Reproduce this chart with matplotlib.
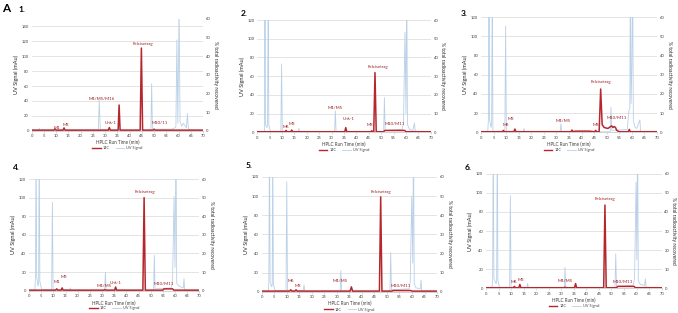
import matplotlib
matplotlib.use("Agg")
import matplotlib.pyplot as plt
from matplotlib.lines import Line2D

plt.rcParams['font.family'] = ['Lato', 'DejaVu Sans']

RED = "#b5272d"
LABEL_RED = "#9e1f24"
BLUE = "#b9d0e8"
GRID = "#d9d9d9"

X_TICKS = list(range(0, 75, 5))
PCT_TICKS = list(range(0, 70, 10))

# ---- panel 1 ----
P1_UV_T = [0, 2.8, 3.1, 3.4, 27.2, 27.6, 28.0, 48.7, 49.0, 49.3, 57.0, 58.0, 58.9,
           59.3, 59.7, 60.2, 60.6, 61.3, 61.9, 63.2, 63.6, 64.0, 65.0, 70]
P1_UV_V = [1, 1, 3, 1, 1, 41, 1, 1, 63, 2, 2, 3, 5, 122, 10, 170, 12, 6, 10, 4, 23, 2, 1, 1]
P1_C14_T = [0, 9.1, 9.5, 9.9, 12.8, 13.2, 13.6, 31.3, 31.7, 32.1, 35.3, 35.7, 36.1,
            44.3, 44.8, 45.3, 49.6, 50.0, 50.4, 70]
P1_C14_V = [0.3, 0.3, 1.0, 0.3, 0.3, 1.5, 0.3, 0.3, 1.7, 0.3, 0.3, 13.8, 0.3,
            0.3, 44.4, 0.3, 0.3, 0.8, 0.3, 0.3]
P1_LABELS = ["M1", "M3", "M4/M5/M16", "Unk-1", "Felcisetrag", "M10/11"]
P1_LABEL_T = [10.5, 13.9, 28.6, 32.4, 45.6, 52.2]
P1_LABEL_Y = [4, 7.6, 43, 11, 117, 10]

# ---- panel 2 ----
P2_UV_T = [0, 2.85, 3.1, 3.35, 3.9, 4.15, 4.4, 4.65, 5.3, 9.5, 9.8, 10.1, 16.5, 16.8, 17.1,
           31.2, 31.5, 31.8, 51.0, 51.3, 51.6, 58.5, 59.0, 59.6, 60.0, 60.3, 60.6,
           61.5, 62.8, 63.4, 63.8, 70]
P2_UV_V = [0.5, 0.5, 170, 8, 5, 8, 170, 8, 1, 1, 73, 1, 1, 4, 0.5, 0.5, 23, 0.5, 0.5,
           37, 2, 3, 10, 107, 20, 170, 8, 3, 2, 10, 0.5, 0.5]
P2_C14_T = [0, 11.2, 11.6, 12.0, 13.5, 13.9, 14.3, 35.3, 35.7, 36.1, 45.8, 46.2, 46.6,
            47.0, 47.5, 48.0, 51.0, 51.5, 59.5, 60.0, 70]
P2_C14_V = [0.3, 0.3, 1.0, 0.3, 0.3, 1.2, 0.3, 0.3, 2.5, 0.3, 0.3, 0.8, 0.3,
            0.3, 31.9, 0.3, 0.3, 1.0, 1.0, 0.3, 0.3]
P2_LABELS = ["M6", "M3", "M4/M5", "Unk-1", "M8", "Felcisetrag", "M10/M11"]
P2_LABEL_T = [11.6, 14.1, 31.4, 37.0, 45.6, 48.5, 55.3]
P2_LABEL_Y = [5.7, 8.5, 25.6, 13.9, 7.5, 70, 9.3]

# ---- panel 3 ----
P3_UV_T = [0, 2.7, 2.95, 3.2, 3.45, 4.0, 4.25, 4.5, 4.75, 9.5, 9.8, 10.1, 16.8, 17.1, 17.4,
           31.5, 31.8, 32.1, 51.4, 51.7, 52.0, 58.2, 58.8, 59.2, 59.4, 59.7, 60.0, 60.3,
           60.6, 61.3, 61.9, 63.2, 63.5, 63.8, 70]
P3_UV_V = [0.5, 0.5, 13, 170, 13, 5, 8, 170, 1, 1, 111, 1, 1, 4, 0.5, 0.5, 9, 0.5, 0.5,
           26, 2, 3, 22, 25, 170, 30, 67, 170, 12, 5, 4, 13, 0.5, 0.5, 0.5]
P3_C14_T = [0, 8.5, 8.9, 9.3, 13.1, 13.5, 13.9, 35.8, 36.2, 36.6, 37.5, 43.0, 45.2,
            45.6, 46.0, 47.0, 47.6, 48.2, 49.0, 50.5, 51.5, 52.0, 52.5, 53.0, 53.5,
            54.0, 55.0, 58.6, 59.0, 59.4, 70]
P3_C14_V = [0.3, 0.3, 1.0, 0.3, 0.3, 1.7, 0.3, 0.3, 1.2, 0.3, 0.6, 0.6, 0.3,
            1.0, 0.3, 0.3, 22.6, 4.0, 2.5, 2.0, 3.0, 3.3, 2.5, 3.0, 2.5,
            1.0, 0.3, 0.3, 1.5, 0.3, 0.3]
P3_LABELS = ["M6", "M3", "M4/M5", "M8", "Felcisetrag", "M10/M11"]
P3_LABEL_T = [9.8, 11.8, 32.5, 45.8, 47.9, 54.2]
P3_LABEL_Y = [7.3, 13.6, 11.8, 7.7, 52.5, 15.3]

# ---- panel 4 ----
P4_UV_T = [0, 2.4, 2.65, 2.9, 3.15, 3.7, 3.95, 4.2, 4.45, 5.2, 9.3, 9.6, 9.9, 16.7, 17.0, 17.3,
           31.1, 31.4, 31.7, 51.2, 51.5, 51.8, 58.4, 59.0, 59.6, 60.0, 60.4, 60.7,
           61.5, 63.4, 63.7, 64.0, 70]
P4_UV_V = [0.5, 0.5, 15, 170, 15, 5, 8, 170, 10, 1, 1, 95, 1, 1, 3, 0.5, 0.5, 20, 0.5, 0.5,
           38, 2, 3, 10, 101, 25, 170, 8, 5, 3, 13, 0.5, 0.5]
P4_C14_T = [0, 11.0, 11.4, 11.8, 13.2, 13.6, 14.0, 30.8, 31.2, 31.6, 35.2, 35.6, 36.0,
            46.8, 47.3, 47.8, 55.0, 55.5, 59.0, 59.5, 70]
P4_C14_V = [0.3, 0.3, 1.0, 0.3, 0.3, 1.5, 0.3, 0.3, 0.6, 0.3, 0.3, 2.0, 0.3,
            0.3, 50.0, 0.3, 0.3, 1.0, 1.0, 0.3, 0.3]
P4_LABELS = ["M1", "M3", "M4/M5", "Unk-1", "Felcisetrag", "M10/M11"]
P4_LABEL_T = [11.6, 14.2, 31.1, 35.8, 47.8, 55.2]
P4_LABEL_Y = [9.3, 15, 5.4, 8.2, 105.7, 7.2]

# ---- panel 5 ----
P5_UV_T = [0, 2.6, 2.85, 3.1, 3.35, 4.0, 4.2, 4.4, 4.65, 5.3, 9.7, 10.0, 10.3, 16.6, 16.9, 17.2,
           31.3, 31.6, 31.9, 51.2, 51.5, 51.8, 58.8, 59.3, 59.9, 60.3, 60.6, 60.9,
           61.6, 63.3, 63.6, 63.9, 70]
P5_UV_V = [0.5, 0.5, 10, 170, 10, 5, 8, 170, 8, 1, 1, 115, 1, 1, 7, 0.5, 0.5, 22, 0.5, 0.5,
           41, 2, 3, 10, 100, 30, 170, 8, 4, 3, 12, 0.5, 0.5]
P5_C14_T = [0, 11.2, 11.6, 12.0, 13.3, 13.7, 14.1, 35.3, 35.8, 36.3, 47.0, 47.5, 48.0,
            52.0, 52.5, 59.5, 60.0, 70]
P5_C14_V = [0.3, 0.3, 1.0, 0.3, 0.3, 1.0, 0.3, 0.3, 2.5, 0.3, 0.3, 49.6, 0.3,
            0.3, 0.6, 0.6, 0.3, 0.3]
P5_LABELS = ["M6", "M3", "M4/M5", "Felcisetrag", "M10/M11"]
P5_LABEL_T = [11.7, 14.4, 31.3, 47.7, 55.5]
P5_LABEL_Y = [10.8, 5.9, 11.5, 104, 6.3]

# ---- panel 6 ----
P6_UV_T = [0, 2.4, 2.65, 2.9, 3.15, 4.0, 4.25, 4.5, 4.75, 5.4, 9.4, 9.7, 10.0, 16.3, 16.6, 16.9,
           31.2, 31.5, 31.8, 51.4, 51.7, 52.0, 58.6, 59.2, 59.8, 60.1, 60.4, 60.7,
           61.5, 63.2, 63.5, 63.8, 70]
P6_UV_V = [0.5, 0.5, 10, 170, 10, 5, 8, 170, 8, 1, 1, 97, 1, 1, 5, 0.5, 0.5, 22, 0.5, 0.5,
           36, 2, 3, 10, 111, 30, 170, 8, 4, 3, 10, 0.5, 0.5]
P6_C14_T = [0, 10.9, 11.3, 11.7, 13.1, 13.5, 13.9, 31.1, 31.5, 31.9, 35.3, 35.7, 36.1,
            46.9, 47.4, 47.9, 52.0, 52.5, 59.0, 59.5, 70]
P6_C14_V = [0.3, 0.3, 1.0, 0.3, 0.3, 2.0, 0.3, 0.3, 0.6, 0.3, 0.3, 2.5, 0.3,
            0.3, 43.6, 0.3, 0.3, 1.0, 1.0, 0.3, 0.3]
P6_LABELS = ["M6", "M3", "M4/M5", "Felcisetrag", "M10/M11"]
P6_LABEL_T = [11.2, 13.9, 31.5, 47.4, 54.7]
P6_LABEL_Y = [6.3, 9.1, 8, 93, 7]


def draw_panel(fig, rect, uv_t, uv_v, c14_t, c14_v, labels, lab_t, lab_y, uv_top, uv_max):
    ax = fig.add_axes(rect)
    ax.plot(uv_t, uv_v, color=BLUE, lw=0.6, zorder=2)
    ax.set_xlim(0, 70)
    ax.set_ylim(0, uv_top)
    ax.set_xticks(X_TICKS)
    ax.set_yticks(list(range(0, uv_max + 1, 20)))
    ax.grid(axis="y", color=GRID, lw=0.5)
    ax.set_axisbelow(True)
    for s in ("top", "left", "right"):
        ax.spines[s].set_visible(False)
    ax.spines["bottom"].set_color("#bfbfbf")
    ax.spines["bottom"].set_linewidth(0.5)
    ax.tick_params(axis="x", labelsize=3, length=1.5, width=0.4, color="#bfbfbf", pad=1, labelcolor="#404040")
    ax.tick_params(axis="y", labelsize=3, length=0, pad=2, labelcolor="#404040")
    ax.set_xlabel("HPLC Run Time (min)", fontsize=3.3, labelpad=1.5, color="#404040")
    ax.set_ylabel("UV Signal (mAu)", fontsize=4, labelpad=2, color="#262626")
    for name, t, y in zip(labels, lab_t, lab_y):
        ax.text(t, y, name, color=LABEL_RED, fontsize=3.2, ha="center", va="center", zorder=5)

    ax2 = ax.twinx()
    ax2.plot(c14_t, c14_v, color=RED, lw=1.1, zorder=3)
    ax2.set_ylim(0, 60)
    ax2.set_yticks(PCT_TICKS)
    for s in ("top", "left", "right", "bottom"):
        ax2.spines[s].set_visible(False)
    ax2.tick_params(axis="y", labelsize=3, length=0, pad=2, labelcolor="#404040")
    ax2.set_ylabel("% total radioactivity recovered", fontsize=3.6, rotation=270,
                   labelpad=5, color="#262626")
    handles = [Line2D([], [], color=RED, lw=1.0), Line2D([], [], color=BLUE, lw=0.6)]
    ax.legend(handles, ["14C", "UV Signal"], loc="center", bbox_to_anchor=(0.5, -0.158),
              ncol=2, fontsize=2.8, frameon=False, handlelength=2.2, columnspacing=1.5,
              handletextpad=0.5, labelcolor="#404040")
    return ax


fig = plt.figure(figsize=(6.78, 3.13), dpi=100)
fig.patch.set_facecolor("white")

draw_panel(fig, [0.0468, 0.5824, 0.2527, 0.3569], P1_UV_T, P1_UV_V, P1_C14_T, P1_C14_V,
           P1_LABELS, P1_LABEL_T, P1_LABEL_Y, 150, 140)
draw_panel(fig, [0.3795, 0.5773, 0.2558, 0.3588], P2_UV_T, P2_UV_V, P2_C14_T, P2_C14_V,
           P2_LABELS, P2_LABEL_T, P2_LABEL_Y, 120, 120)
draw_panel(fig, [0.7094, 0.5773, 0.2596, 0.3674], P3_UV_T, P3_UV_V, P3_C14_T, P3_C14_V,
           P3_LABELS, P3_LABEL_T, P3_LABEL_Y, 120, 120)
draw_panel(fig, [0.0428, 0.0712, 0.2512, 0.3569], P4_UV_T, P4_UV_V, P4_C14_T, P4_C14_V,
           P4_LABELS, P4_LABEL_T, P4_LABEL_Y, 120, 120)
draw_panel(fig, [0.3860, 0.0681, 0.2586, 0.3665], P5_UV_T, P5_UV_V, P5_C14_T, P5_C14_V,
           P5_LABELS, P5_LABEL_T, P5_LABEL_Y, 120, 120)
draw_panel(fig, [0.7168, 0.0789, 0.2591, 0.3661], P6_UV_T, P6_UV_V, P6_C14_T, P6_C14_V,
           P6_LABELS, P6_LABEL_T, P6_LABEL_Y, 120, 120)

fig.text(2 / 678, 1 - 8 / 313, "A", fontsize=8.5, fontweight="bold", va="center", ha="left")
for txt, px, py in [("1.", 18, 10), ("2.", 241, 13), ("3.", 461, 13),
                    ("4.", 13, 168), ("5.", 246, 166), ("6.", 465, 167)]:
    fig.text(px / 678, 1 - py / 313, txt, fontsize=6, fontweight="bold", va="center", ha="left")

fig.savefig("out.png", dpi=100)
